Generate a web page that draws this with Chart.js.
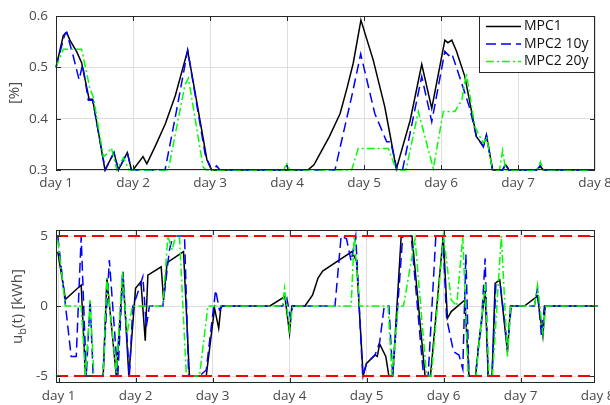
<!DOCTYPE html>
<html>
<head>
<meta charset="utf-8">
<script src="https://cdn.jsdelivr.net/npm/chart.js@4.4.0/dist/chart.umd.min.js"></script>
<style>
  html, body { margin: 0; padding: 0; background: #fff; }
  #wrap { position: relative; width: 610px; height: 405px; }
  .pane { position: absolute; left: 0; width: 610px; }
</style>
</head>
<body>
<div id="wrap">
  <div class="pane" style="top:0;height:200px"><canvas id="soc"></canvas></div>
  <div class="pane" style="top:200px;height:205px"><canvas id="ub"></canvas></div>
</div>
<script>
// tick positions / labels
const dayTicks = [1, 2, 3, 4, 5, 6, 7, 8];
const socTicks = [0.3, 0.4, 0.5, 0.6];
const ubTicks = [-5, 0, 5];
const seriesNames = ["MPC1", "MPC2 10y", "MPC2 20y"];
const ubLimits = [5, -5];

// state of charge [day, %]
const socMpc1 = [[1.0,0.5],[1.095,0.562],[1.139,0.568],[1.18,0.553],[1.27,0.53],[1.333,0.509],[1.43,0.438],[1.476,0.438],
  [1.636,0.3],[1.753,0.334],[1.81,0.3],[1.926,0.334],[1.98,0.3],[2.0,0.3],[2.13,0.326],[2.18,0.312],[2.3,0.35],[2.42,0.39],
  [2.55,0.445],[2.71,0.533],[2.96,0.32],[3.02,0.3],[4.27,0.3],[4.35,0.31],[4.44,0.335],[4.55,0.365],[4.69,0.41],[4.78,0.46],
  [4.86,0.508],[4.96,0.592],[5.12,0.514],[5.27,0.423],[5.33,0.375],[5.42,0.302],[5.6,0.397],[5.75,0.506],[5.88,0.42],
  [6.05,0.553],[6.09,0.548],[6.14,0.553],[6.2,0.532],[6.31,0.482],[6.46,0.365],[6.55,0.347],[6.59,0.368],[6.67,0.3],
  [6.8,0.3],[6.84,0.31],[6.88,0.3],[7.24,0.3],[7.29,0.307],[7.33,0.3],[8.0,0.3]];
const socMpc2a = [[1.0,0.5],[1.117,0.566],[1.139,0.568],[1.225,0.521],[1.3,0.476],[1.345,0.505],[1.42,0.436],[1.476,0.436],
  [1.64,0.3],[1.753,0.334],[1.81,0.3],[1.926,0.334],[1.98,0.3],[2.416,0.3],[2.567,0.417],[2.71,0.533],[2.935,0.332],
  [3.02,0.3],[3.085,0.308],[3.13,0.3],[3.96,0.3],[3.995,0.308],[4.03,0.3],[4.623,0.3],[4.84,0.443],[4.957,0.526],
  [5.14,0.41],[5.295,0.355],[5.347,0.355],[5.43,0.3],[5.5,0.3],[5.727,0.466],[5.75,0.482],[5.88,0.394],[6.05,0.531],
  [6.1,0.523],[6.14,0.527],[6.2,0.5],[6.31,0.45],[6.38,0.417],[6.46,0.365],[6.55,0.345],[6.59,0.368],[6.67,0.3],
  [6.8,0.3],[6.84,0.313],[6.88,0.3],[7.24,0.3],[7.29,0.309],[7.33,0.3],[8.0,0.3]];
const socMpc2b = [[1.0,0.5],[1.095,0.535],[1.333,0.535],[1.44,0.459],[1.485,0.442],[1.615,0.326],[1.65,0.33],[1.72,0.343],
  [1.79,0.3],[1.875,0.324],[1.95,0.3],[2.458,0.3],[2.675,0.466],[2.72,0.479],[2.91,0.306],[2.95,0.3],[3.96,0.3],
  [3.995,0.314],[4.03,0.3],[4.84,0.3],[4.925,0.342],[5.316,0.342],[5.42,0.3],[5.545,0.3],[5.705,0.414],[5.9,0.303],
  [6.03,0.414],[6.18,0.414],[6.27,0.436],[6.33,0.488],[6.44,0.384],[6.55,0.352],[6.59,0.365],[6.67,0.3],[6.76,0.3],
  [6.8,0.338],[6.84,0.3],[7.25,0.3],[7.29,0.316],[7.33,0.3],[8.0,0.3]];

// battery power u_b(t) [day, kWh]
const ubMpc1 = [[0.99,3.88],[1.09,0.48],[1.294,1.5],[1.35,-5],[1.58,-5],[1.628,1.98],[1.75,-5],[1.835,2.45],[1.913,-5],
  [2.0,1.26],[2.07,1.74],[2.126,-2.48],[2.16,2.2],[2.333,2.8],[2.364,0.43],[2.41,3.1],[2.623,3.88],[2.7,-5],[2.918,-5],
  [3.026,-0.17],[3.08,-1.6],[3.11,0],[3.745,0],[3.94,0.67],[4.0,-1.95],[4.03,0],[4.2,0],[4.3,0.8],[4.37,2.0],[4.43,2.5],
  [4.81,3.88],[4.87,3.2],[4.956,-5],[5.0,-4.1],[5.11,-3.5],[5.14,-3.6],[5.17,-2.7],[5.25,-3.6],[5.29,-5],[5.34,-5],
  [5.45,5],[5.59,5],[5.76,-5],[5.83,-5],[5.996,5],[6.05,-0.88],[6.1,-0.4],[6.277,0.43],[6.33,-5],[6.416,-5],[6.47,-2.07],
  [6.54,1.1],[6.58,-5],[6.63,-5],[6.67,1.62],[6.73,1.86],[6.83,-3.3],[6.87,0],[7.05,0],[7.22,0.71],[7.29,-2.14],[7.32,0],[8.0,0]];
const ubMpc2a = [[0.99,5],[1.164,-3.6],[1.23,-3.6],[1.294,4.95],[1.36,-5],[1.41,0.43],[1.45,-5],[1.575,-5],[1.66,3.29],
  [1.77,-5],[1.835,2.45],[1.92,-5],[1.965,-0.05],[2.02,0.8],[2.095,2.1],[2.14,-1.48],[2.18,0],[2.355,0],[2.44,4],[2.485,5],
  [2.636,5],[2.69,-5],[2.83,-5],[2.918,-4.57],[3.04,1.14],[3.09,-0.29],[3.13,0],[3.91,0],[3.965,0.55],[4.013,-0.88],
  [4.04,0],[4.59,0],[4.67,5],[4.74,4.8],[4.8,3.2],[4.86,5],[4.95,-5],[5.0,-4.1],[5.11,-3.5],[5.17,-2.6],[5.23,0],[5.29,0],
  [5.34,-5],[5.47,5],[5.58,5],[5.74,-5],[5.8,-5],[5.9,5],[5.99,5],[6.04,-0.88],[6.13,-3.26],[6.2,-3.5],[6.25,-4.5],
  [6.29,3.7],[6.33,-5],[6.416,-5],[6.45,-3.0],[6.49,-1.5],[6.54,3.4],[6.58,-5],[6.63,-5],[6.68,1.6],[6.74,1.4],[6.83,-2.9],
  [6.88,0],[7.18,0],[7.22,1.26],[7.27,-2.07],[7.31,0],[8.0,0]];
const ubMpc2b = [[0.99,4.7],[1.09,0],[1.294,0],[1.35,-5],[1.41,0.43],[1.46,-5],[1.58,-5],[1.628,1.98],[1.75,-4.8],
  [1.83,2.45],[1.89,-1.95],[1.96,0],[2.355,0],[2.42,5],[2.476,4],[2.52,5],[2.57,5],[2.66,-5],[2.83,-5],[2.94,0],[3.91,0],
  [3.935,1.26],[4.0,-1.7],[4.04,0],[4.8,0],[4.84,5],[4.91,0],[5.28,0],[5.33,-5],[5.41,0],[5.48,0],[5.63,4.8],[5.78,-5],
  [5.84,-5],[6.0,5],[6.1,0.43],[6.17,0],[6.25,5],[6.32,-5],[6.42,-5],[6.47,-2.2],[6.54,1.6],[6.59,-5],[6.636,-5],
  [6.75,5],[6.83,-3.6],[6.87,0],[7.18,0],[7.22,1.5],[7.29,-1.95],[7.33,0],[8.0,0]];

const tickFont = { family: "Open Sans", size: 13.5 };
const tickColor = "#4a4a4a";
const gridColor = "#dedede";
const frameColor = "#262626";
const colors = ["#000000", "#0000ff", "#00ff00"];
const dashes = [[], [10, 5], [8, 3, 2, 3]];

function pts(arr) {
    return arr.map((p) => ({ x: p[0], y: p[1] }));
}

function fixTicks(list) {
    return (s) => { s.ticks = list.map((v) => ({ value: v })); };
}

const framePlugin = {
    id: "frame",
    afterDraw(chart, args, opts) {
        const { ctx, chartArea: a, scales } = chart;
        ctx.save();
        ctx.strokeStyle = frameColor;
        ctx.lineWidth = 1;
        ctx.setLineDash([]);
        ctx.beginPath();
        scales.x.ticks.forEach((t) => {
            const px = Math.round(scales.x.getPixelForValue(t.value)) + 0.5;
            if (px < a.left || px > a.right) return;
            ctx.moveTo(px, a.bottom); ctx.lineTo(px, a.bottom - 5);
            ctx.moveTo(px, a.top); ctx.lineTo(px, a.top + 5);
        });
        scales.y.ticks.forEach((t) => {
            const py = Math.round(scales.y.getPixelForValue(t.value)) + 0.5;
            ctx.moveTo(a.left, py); ctx.lineTo(a.left + 5, py);
            ctx.moveTo(a.right, py); ctx.lineTo(a.right - 5, py);
        });
        ctx.stroke();
        ctx.strokeRect(a.left + 0.5, a.top + 0.5, a.right - a.left - 1, a.bottom - a.top - 1);

        // y axis title, with optional subscript
        const parts = opts.title;
        const yc = (a.top + a.bottom) / 2;
        ctx.translate(opts.titleX, yc);
        ctx.rotate(-Math.PI / 2);
        ctx.fillStyle = tickColor;
        ctx.textBaseline = "middle";
        ctx.textAlign = "left";
        let total = 0;
        parts.forEach((p) => {
            ctx.font = (p.sub ? 11 : 15) + "px 'Open Sans'";
            total += ctx.measureText(p.t).width;
        });
        let x = -total / 2;
        parts.forEach((p) => {
            ctx.font = (p.sub ? 11 : 15) + "px 'Open Sans'";
            ctx.fillText(p.t, x, p.sub ? 5 : 0);
            x += ctx.measureText(p.t).width;
        });
        ctx.restore();

        if (opts.legend) {
            ctx.save();
            const lx = 479.5, ly = 16.5, lw = 115, lh = 56;
            ctx.fillStyle = "#fff";
            ctx.fillRect(lx, ly, lw, lh);
            ctx.strokeStyle = frameColor;
            ctx.lineWidth = 1;
            ctx.strokeRect(lx, ly, lw, lh);
            ctx.font = "14px 'Open Sans'";
            ctx.textBaseline = "middle";
            ctx.fillStyle = "#111";
            seriesNames.forEach((name, i) => {
                const ry = 26.5 + i * 17.5;
                ctx.strokeStyle = colors[i];
                ctx.lineWidth = 1.5;
                ctx.setLineDash(dashes[i]);
                ctx.beginPath();
                ctx.moveTo(486, ry); ctx.lineTo(521, ry);
                ctx.stroke();
                ctx.fillText(name, 524, ry);
            });
            ctx.restore();
        }
    },
};

function lineSet(label, data, i) {
    return {
        label: label,
        data: pts(data),
        borderColor: colors[i],
        borderWidth: 1.5,
        borderDash: dashes[i],
        pointRadius: 0,
        tension: 0,
        fill: false,
        clip: 4,
        order: 3 - i,
    };
}

function xAxis(min, max, height, pad) {
    return {
        type: "linear",
        min: min,
        max: max,
        afterBuildTicks: fixTicks(dayTicks),
        afterFit: (s) => { s.height = height; s.paddingLeft = 0; s.paddingRight = 0; },
        grid: {
            color: (c) => (c.tick && c.tick.value > max ? "rgba(0,0,0,0)" : gridColor),
            drawTicks: false,
        },
        border: { display: false },
        ticks: {
            autoSkip: false,
            maxRotation: 0,
            padding: pad,
            color: tickColor,
            font: tickFont,
            callback: (v) => "day " + v,
        },
    };
}

function yAxis(min, max, list, fmt) {
    return {
        min: min,
        max: max,
        afterBuildTicks: fixTicks(list),
        afterFit: (s) => { s.width = 56; s.paddingTop = 0; s.paddingBottom = 0; },
        grid: { color: gridColor, drawTicks: false },
        border: { display: false },
        ticks: { padding: 8, color: tickColor, font: tickFont, callback: fmt },
    };
}

new Chart(document.getElementById("soc"), {
    type: "line",
    data: {
        datasets: [
            lineSet(seriesNames[0], socMpc1, 0),
            lineSet(seriesNames[1], socMpc2a, 1),
            lineSet(seriesNames[2], socMpc2b, 2),
        ],
    },
    options: {
        responsive: true,
        maintainAspectRatio: false,
        animation: false,
        layout: { padding: { top: 16, right: 15, left: 0, bottom: 0 } },
        scales: {
            x: xAxis(1, 8, 30, 5),
            y: yAxis(0.3, 0.6, socTicks, (v) => v.toFixed(1)),
        },
        plugins: {
            legend: { display: false },
            tooltip: { enabled: false },
            frame: { title: [{ t: "[%]" }], titleX: 15, legend: true },
        },
    },
    plugins: [framePlugin],
});

const limitSets = ubLimits.map((v) => ({
    label: "limit " + v,
    data: [{ x: 0.967, y: v }, { x: 7.967, y: v }],
    borderColor: "#ff0000",
    borderWidth: 2,
    borderDash: [12, 6],
    pointRadius: 0,
    fill: false,
    order: 0,
}));

new Chart(document.getElementById("ub"), {
    type: "line",
    data: {
        datasets: [
            lineSet(seriesNames[0], ubMpc1, 0),
            lineSet(seriesNames[1], ubMpc2a, 1),
            lineSet(seriesNames[2], ubMpc2b, 2),
        ].concat(limitSets),
    },
    options: {
        responsive: true,
        maintainAspectRatio: false,
        animation: false,
        layout: { padding: { top: 30, right: 15, left: 0, bottom: 0 } },
        scales: {
            x: xAxis(0.967, 7.967, 22, 5),
            y: yAxis(-5.5, 5.43, ubTicks, (v) => String(v)),
        },
        plugins: {
            legend: { display: false },
            tooltip: { enabled: false },
            frame: { title: [{ t: "u" }, { t: "b", sub: true }, { t: "(t) [kWh]" }], titleX: 18 },
        },
    },
    plugins: [framePlugin],
});
</script>
</body>
</html>
